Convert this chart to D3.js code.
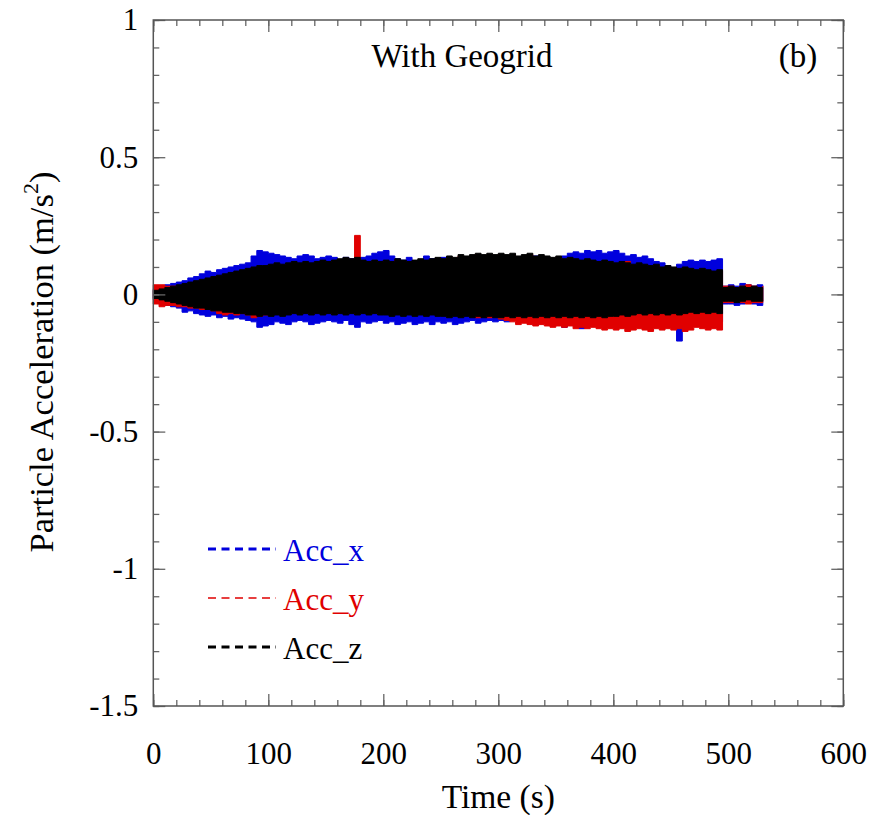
<!DOCTYPE html>
<html>
<head>
<meta charset="utf-8">
<script src="https://cdn.jsdelivr.net/npm/d3@7"></script>
<style>
body { margin: 0; background: #fff; }
svg text { font-family: "Liberation Serif", "Times New Roman", serif; }
</style>
</head>
<body>
<div id="chart"></div>
<script>
var width = 884,
    height = 815;

// envelope of each record, read every 5 s from 0 to 530 s
var times = d3.range(0, 531, 5);

var accXHi = [0.02,0.03,0.035,0.04,0.045,0.05,0.06,0.065,0.075,0.085,
  0.08,0.09,0.095,0.1,0.105,0.11,0.115,0.14,0.16,0.155,
  0.15,0.145,0.14,0.135,0.13,0.14,0.145,0.14,0.13,0.135,
  0.14,0.135,0.125,0.135,0.13,0.125,0.135,0.14,0.15,0.155,
  0.16,0.14,0.13,0.125,0.135,0.12,0.125,0.14,0.13,0.125,
  0.135,0.13,0.12,0.125,0.13,0.125,0.135,0.13,0.14,0.135,
  0.13,0.12,0.125,0.13,0.14,0.135,0.14,0.13,0.12,0.125,
  0.135,0.14,0.15,0.155,0.15,0.16,0.155,0.16,0.15,0.155,
  0.16,0.15,0.14,0.145,0.135,0.14,0.13,0.12,0.115,0.105,
  0.095,0.11,0.12,0.125,0.12,0.125,0.12,0.125,0.13,0.03,
  0.035,0.03,0.04,0.035,0.03,0.035,0.03];
var accXLo = [-0.02,-0.03,-0.04,-0.045,-0.05,-0.065,-0.06,-0.07,-0.075,-0.08,
  -0.075,-0.085,-0.08,-0.09,-0.085,-0.09,-0.095,-0.1,-0.12,-0.115,
  -0.11,-0.1,-0.105,-0.11,-0.1,-0.095,-0.1,-0.11,-0.105,-0.1,
  -0.095,-0.1,-0.105,-0.095,-0.11,-0.12,-0.1,-0.105,-0.1,-0.095,
  -0.105,-0.1,-0.11,-0.105,-0.1,-0.11,-0.105,-0.1,-0.11,-0.1,
  -0.105,-0.1,-0.11,-0.105,-0.1,-0.095,-0.105,-0.1,-0.095,-0.1,
  -0.095,-0.1,-0.09,-0.095,-0.1,-0.105,-0.11,-0.1,-0.105,-0.115,
  -0.11,-0.12,-0.105,-0.11,-0.125,-0.11,-0.115,-0.105,-0.11,-0.12,
  -0.11,-0.105,-0.11,-0.1,-0.105,-0.11,-0.1,-0.105,-0.11,-0.105,
  -0.11,-0.17,-0.115,-0.105,-0.11,-0.1,-0.105,-0.11,-0.1,-0.035,
  -0.035,-0.04,-0.035,-0.03,-0.035,-0.04,-0.035];

var accYHi = [0.035,0.035,0.03,0.03,0.03,0.035,0.04,0.045,0.05,0.055,
  0.06,0.065,0.07,0.075,0.08,0.085,0.09,0.095,0.1,0.1,
  0.105,0.11,0.105,0.11,0.115,0.11,0.115,0.11,0.115,0.12,
  0.115,0.12,0.125,0.13,0.125,0.215,0.12,0.115,0.12,0.115,
  0.12,0.115,0.125,0.12,0.115,0.12,0.125,0.12,0.125,0.13,
  0.125,0.135,0.13,0.14,0.135,0.14,0.145,0.14,0.145,0.14,
  0.145,0.14,0.145,0.135,0.14,0.145,0.135,0.14,0.135,0.13,
  0.135,0.125,0.13,0.125,0.12,0.125,0.12,0.115,0.12,0.115,
  0.11,0.115,0.12,0.105,0.11,0.105,0.1,0.105,0.095,0.1,
  0.095,0.09,0.095,0.09,0.085,0.09,0.085,0.08,0.085,0.03,
  0.03,0.025,0.03,0.035,0.03,0.025,0.03];
var accYLo = [-0.035,-0.045,-0.04,-0.04,-0.045,-0.045,-0.05,-0.05,-0.055,-0.055,
  -0.06,-0.07,-0.075,-0.07,-0.075,-0.07,-0.075,-0.085,-0.08,-0.075,
  -0.075,-0.07,-0.075,-0.07,-0.065,-0.07,-0.065,-0.07,-0.065,-0.07,
  -0.065,-0.07,-0.065,-0.07,-0.065,-0.07,-0.065,-0.07,-0.065,-0.07,
  -0.07,-0.075,-0.07,-0.075,-0.07,-0.075,-0.07,-0.075,-0.07,-0.075,
  -0.075,-0.08,-0.075,-0.08,-0.075,-0.08,-0.085,-0.08,-0.085,-0.08,
  -0.09,-0.095,-0.1,-0.11,-0.105,-0.11,-0.115,-0.11,-0.115,-0.12,
  -0.115,-0.12,-0.115,-0.125,-0.12,-0.125,-0.12,-0.125,-0.13,-0.125,
  -0.13,-0.125,-0.135,-0.13,-0.125,-0.13,-0.135,-0.125,-0.13,-0.125,
  -0.13,-0.125,-0.135,-0.13,-0.12,-0.125,-0.13,-0.125,-0.13,-0.03,
  -0.03,-0.025,-0.03,-0.035,-0.03,-0.03,-0.03];

var accZHi = [0.015,0.02,0.025,0.03,0.035,0.04,0.045,0.05,0.055,0.06,
  0.065,0.07,0.075,0.08,0.085,0.09,0.095,0.1,0.105,0.105,
  0.11,0.115,0.11,0.115,0.12,0.115,0.12,0.115,0.12,0.125,
  0.12,0.125,0.13,0.135,0.13,0.135,0.125,0.12,0.125,0.12,
  0.125,0.12,0.13,0.125,0.12,0.125,0.13,0.125,0.13,0.135,
  0.13,0.14,0.135,0.145,0.14,0.145,0.15,0.145,0.15,0.145,
  0.15,0.145,0.15,0.14,0.145,0.15,0.14,0.145,0.14,0.135,
  0.14,0.13,0.135,0.13,0.125,0.13,0.125,0.12,0.125,0.12,
  0.115,0.12,0.115,0.11,0.115,0.11,0.105,0.11,0.1,0.105,
  0.1,0.095,0.1,0.095,0.09,0.095,0.09,0.085,0.09,0.025,
  0.03,0.025,0.03,0.025,0.03,0.025,0.025];
var accZLo = [-0.015,-0.02,-0.025,-0.03,-0.035,-0.04,-0.045,-0.05,-0.05,-0.055,
  -0.06,-0.06,-0.065,-0.065,-0.07,-0.07,-0.075,-0.075,-0.08,-0.075,
  -0.08,-0.075,-0.08,-0.075,-0.07,-0.075,-0.07,-0.075,-0.07,-0.075,
  -0.07,-0.075,-0.07,-0.075,-0.07,-0.075,-0.07,-0.075,-0.07,-0.075,
  -0.075,-0.08,-0.075,-0.08,-0.075,-0.08,-0.075,-0.08,-0.075,-0.08,
  -0.08,-0.085,-0.08,-0.085,-0.08,-0.085,-0.08,-0.085,-0.08,-0.085,
  -0.085,-0.08,-0.085,-0.08,-0.085,-0.08,-0.085,-0.08,-0.085,-0.08,
  -0.085,-0.08,-0.085,-0.08,-0.085,-0.08,-0.085,-0.08,-0.085,-0.08,
  -0.08,-0.075,-0.08,-0.075,-0.07,-0.075,-0.07,-0.075,-0.07,-0.075,
  -0.07,-0.075,-0.07,-0.065,-0.07,-0.065,-0.07,-0.065,-0.07,-0.025,
  -0.025,-0.03,-0.025,-0.02,-0.025,-0.025,-0.025];

var seriesNames = ["Acc_x", "Acc_y", "Acc_z"];
var seriesColors = ["#0000dd", "#e00000", "#000000"];
var xTicks = [0, 100, 200, 300, 400, 500, 600];
var yTicks = [-1.5, -1, -0.5, 0, 0.5, 1];
var yTickLabels = ["-1.5", "-1", "-0.5", "0", "0.5", "1"];

var plot = {left: 153.3, right: 843.3, top: 20, bottom: 706};

var svg = d3.select("#chart")
  .append("svg")
  .attr("width", width)
  .attr("height", height);

var xScale = d3.scaleLinear()
  .domain([0, 600])
  .range([plot.left, plot.right]);

var yScale = d3.scaleLinear()
  .domain([-1.5, 1])
  .range([plot.bottom, plot.top]);

var records = [
  {hi: accXHi, lo: accXLo},
  {hi: accYHi, lo: accYLo},
  {hi: accZHi, lo: accZLo}
];

var area = d3.area()
  .curve(d3.curveStepAfter)
  .x(function(d) { return xScale(d.t); })
  .y0(function(d) { return yScale(d.lo); })
  .y1(function(d) { return yScale(d.hi); });

// x first, then y, z drawn on top
records.forEach(function(r, i) {
  var pts = times.map(function(t, j) { return {t: t, hi: r.hi[j], lo: r.lo[j]}; });
  svg.append("path")
    .datum(pts)
    .attr("d", area)
    .attr("fill", seriesColors[i])
    .attr("stroke", seriesColors[i])
    .attr("stroke-width", 1);
});

// ticks on all four sides, pointing inward
var tickColor = "#666";
var minorX = d3.range(0, 601, 20),
    minorY = d3.range(-15, 11).map(function(v) { return v / 10; });

function addAxis(axis, tx, ty) {
  var g = svg.append("g")
    .attr("transform", "translate(" + tx + "," + ty + ")")
    .call(axis);
  g.select(".domain").remove();
  g.selectAll("line").attr("stroke", tickColor).attr("stroke-width", 1.3);
  return g;
}

addAxis(d3.axisBottom(xScale).tickValues(minorX).tickSize(-6).tickFormat(""), 0, plot.bottom);
addAxis(d3.axisTop(xScale).tickValues(minorX).tickSize(-6).tickFormat(""), 0, plot.top);
addAxis(d3.axisLeft(yScale).tickValues(minorY).tickSize(-6).tickFormat(""), plot.left, 0);
addAxis(d3.axisRight(yScale).tickValues(minorY).tickSize(-6).tickFormat(""), plot.right, 0);

addAxis(d3.axisBottom(xScale).tickValues(xTicks).tickSize(-12).tickPadding(36)
  .tickFormat(d3.format("d")), 0, plot.bottom);
addAxis(d3.axisTop(xScale).tickValues(xTicks).tickSize(-12).tickFormat(""), 0, plot.top);
addAxis(d3.axisLeft(yScale).tickValues(yTicks).tickSize(-12).tickPadding(15)
  .tickFormat(function(d, i) { return yTickLabels[i]; }), plot.left, 0);
addAxis(d3.axisRight(yScale).tickValues(yTicks).tickSize(-12).tickFormat(""), plot.right, 0);

svg.selectAll(".tick text")
  .attr("font-family", "Liberation Serif")
  .attr("font-size", 31)
  .attr("fill", "#000");

// frame
svg.append("rect")
  .attr("x", plot.left)
  .attr("y", plot.top)
  .attr("width", plot.right - plot.left)
  .attr("height", plot.bottom - plot.top)
  .attr("fill", "none")
  .attr("stroke", "#555")
  .attr("stroke-width", 1.5);

// titles
svg.append("text")
  .attr("x", 462)
  .attr("y", 67)
  .attr("text-anchor", "middle")
  .attr("font-size", 33)
  .text("With Geogrid");

svg.append("text")
  .attr("x", 798)
  .attr("y", 67)
  .attr("text-anchor", "middle")
  .attr("font-size", 33)
  .text("(b)");

svg.append("text")
  .attr("x", (plot.left + plot.right) / 2)
  .attr("y", 808)
  .attr("text-anchor", "middle")
  .attr("font-size", 33.5)
  .text("Time (s)");

var yLabel = svg.append("text")
  .attr("transform", "translate(53," + 362 + ") rotate(-90)")
  .attr("text-anchor", "middle")
  .attr("font-size", 34.5);
yLabel.append("tspan").text("Particle Acceleration (m/s");
yLabel.append("tspan").attr("font-size", 22).attr("dy", -15).text("2");
yLabel.append("tspan").attr("dy", 15).text(")");

// legend
var legendY = [549, 598, 647];
var legendWidths = [3, 1.5, 3];
seriesNames.forEach(function(name, i) {
  svg.append("line")
    .attr("x1", 208)
    .attr("x2", 276)
    .attr("y1", legendY[i])
    .attr("y2", legendY[i])
    .attr("stroke", seriesColors[i])
    .attr("stroke-width", legendWidths[i])
    .attr("stroke-dasharray", "8,5.5");
  svg.append("text")
    .attr("x", 283)
    .attr("y", legendY[i] + 12)
    .attr("font-size", 31)
    .attr("fill", seriesColors[i])
    .text(name);
});
</script>
</body>
</html>
